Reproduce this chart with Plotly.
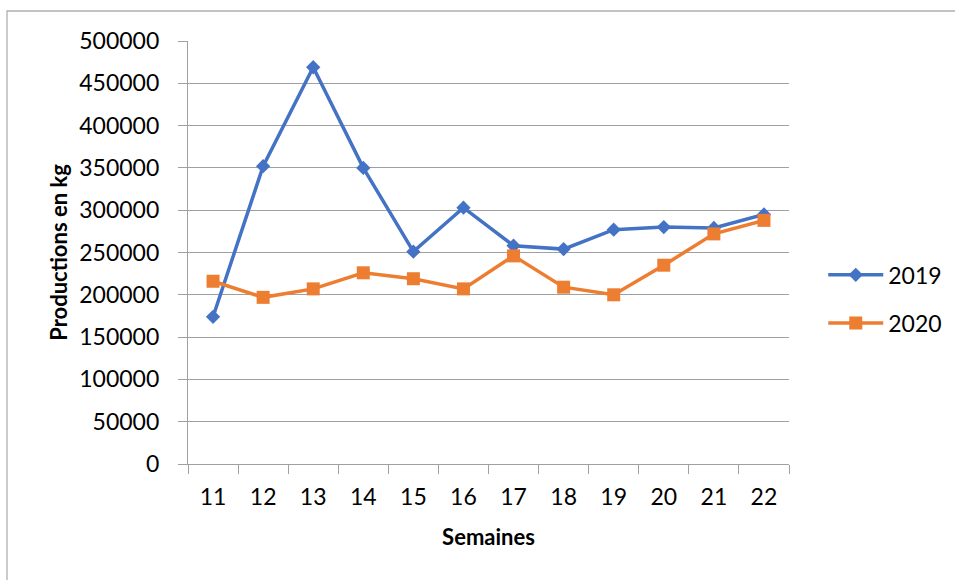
import plotly.graph_objects as go

# Weekly production (kg), weeks 11 to 22
semaines = ["11", "12", "13", "14", "15", "16", "17", "18", "19", "20", "21", "22"]
prod_2019 = [174000, 352000, 469000, 350000, 251000, 303000,
             258000, 254000, 277000, 280000, 279000, 295000]
prod_2020 = [216000, 197000, 207000, 226000, 219000, 207000,
             246000, 209000, 200000, 235000, 272000, 288000]
y_ticks = [0, 50000, 100000, 150000, 200000, 250000,
           300000, 350000, 400000, 450000, 500000]

FONT = "Lato"
GRID = "#a0a0a0"
BLUE = "#4472C4"
ORANGE = "#ED7D31"

fig = go.Figure()
fig.add_trace(go.Scatter(
    x=semaines, y=prod_2019, name="2019", mode="lines+markers",
    line=dict(color=BLUE, width=3.5),
    marker=dict(symbol="diamond", size=11, color=BLUE),
    legend="legend",
))
fig.add_trace(go.Scatter(
    x=semaines, y=prod_2020, name="2020", mode="lines+markers",
    line=dict(color=ORANGE, width=3.5),
    marker=dict(symbol="square", size=13, color=ORANGE),
    legend="legend2",
))

legend_style = dict(
    xanchor="left", yanchor="middle", bgcolor="rgba(0,0,0,0)",
    font=dict(family=FONT, size=23, color="#000000"),
    itemwidth=55,
)

fig.update_layout(
    width=955, height=580,
    margin=dict(l=188, r=166, t=41, b=116, autoexpand=False),
    paper_bgcolor="white", plot_bgcolor="white",
    font=dict(family=FONT, size=23, color="#000000"),
    showlegend=True,
    legend=dict(x=1.057, y=0.447, **legend_style),
    legend2=dict(x=1.057, y=0.333, **legend_style),
    xaxis=dict(
        type="category", range=[-0.5, 11.5],
        showline=True, linecolor=GRID, linewidth=1.3,
        showgrid=False, ticks="outside", tickson="boundaries",
        ticklen=9, tickcolor=GRID, tickwidth=1.3,
        ticklabelstandoff=12,
        title=dict(text="<b>Semaines</b>", standoff=20,
                   font=dict(family=FONT, size=22)),
    ),
    yaxis=dict(
        range=[0, 500000], tickvals=y_ticks, tickformat="d",
        showline=True, linecolor=GRID, linewidth=1.3,
        showgrid=True, gridcolor=GRID, gridwidth=1.3,
        zeroline=False,
        ticks="outside", ticklen=9, tickcolor=GRID, tickwidth=1.3,
        ticklabelstandoff=14,
        title=dict(text="<b>Productions en kg</b>", standoff=5,
                   font=dict(family=FONT, size=22)),
    ),
    shapes=[dict(
        type="rect", xref="paper", yref="paper",
        x0=(7 - 188) / 601, x1=(970 - 188) / 601,
        y0=(464 - 600) / 423, y1=(464 - 11) / 423,
        line=dict(color="#b0b0b0", width=1.3), fillcolor="rgba(0,0,0,0)",
        layer="below",
    )],
)

fig.write_html("out.html")
